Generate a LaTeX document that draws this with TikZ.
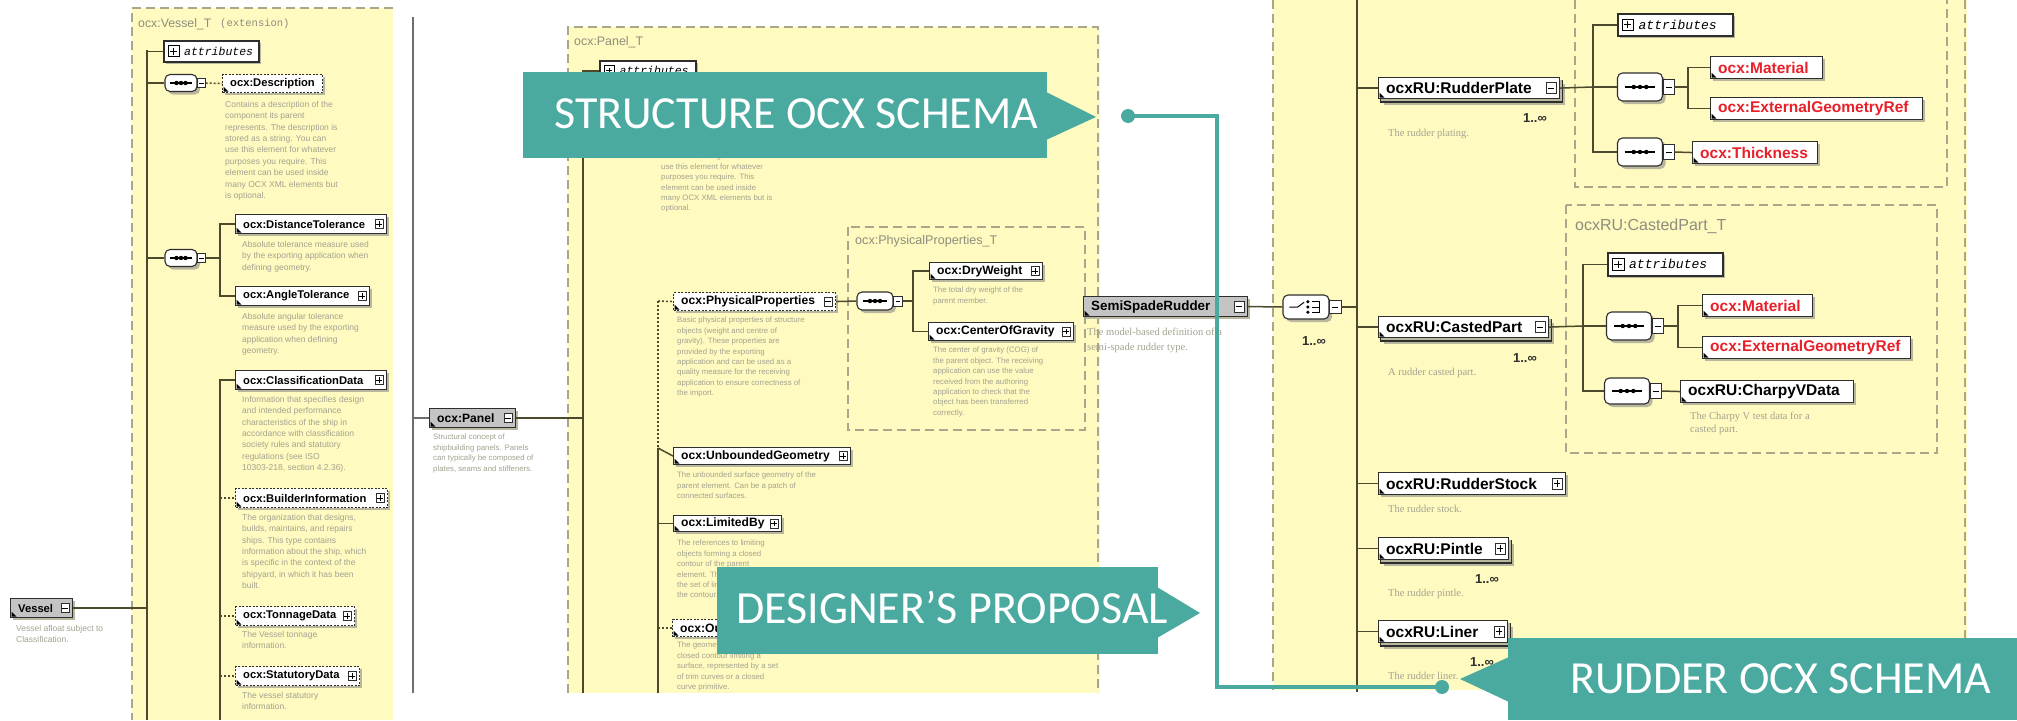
\documentclass[tikz,border=0pt]{standalone}
\usepackage{fontspec}
\setmainfont{Liberation Sans}
\newfontfamily\calloutfont{Carlito}
\newfontfamily\serifdesc{Liberation Serif}
\newfontfamily\attrfont{Liberation Mono}

\definecolor{calloutC}{HTML}{4BAAA0}
\definecolor{paneC}{HTML}{FEFAC0}
\definecolor{frameC}{HTML}{A9A68A}
\definecolor{lineC}{HTML}{4B4A2C}
\definecolor{boxC}{HTML}{2E2E2E}
\definecolor{shadowC}{HTML}{B9B79E}
\definecolor{globC}{HTML}{C4C4C4}
\definecolor{descC}{HTML}{A3A290}
\definecolor{titleC}{HTML}{8E8D7E}
\definecolor{refC}{HTML}{E8202A}
\definecolor{spineC}{HTML}{6E6E6E}

% half size of the +/- marker inside element boxes
\newcommand{\sgs}{4.5}

% element box: [style]{name}{x}{y}{w}{h}{label}
\newcommand{\elem}[7][ebox]{%
  \fill[shadowC] ({#3+3},{#4+3}) rectangle ++(#5,#6);
  \node[#1, minimum width=#5, minimum height=#6, anchor=north west] (#2) at (#3,#4) {};
  \node[anchor=west, inner sep=0, namefont] at ([xshift=8pt]#2.west) {#7};
  \fill[black] ([xshift=1.5pt,yshift=1.5pt]#2.south west) -- ++(5pt,0pt) -- ++(-5pt,5pt) -- cycle;
}
% element with several occurrences (stacked box behind)
\newcommand{\elemmulti}[7][ebox]{%
  \fill[shadowC] ({#3+6},{#4+7}) rectangle ++(#5,#6);
  \filldraw[fill=white, draw=boxC, line width=1.1pt] ({#3+3},{#4+4}) rectangle ++(#5,#6);
  \elem[#1]{#2}{#3}{#4}{#5}{#6}{#7}%
}
% +/- marker: {node}{1 = plus, 0 = minus}
\newcommand{\signbox}[2]{%
  \draw[line width=0.7pt, draw=boxC, fill=white] ([xshift={-4-1.8*\sgs},yshift={-\sgs}]#1.east) rectangle ([xshift=-4,yshift={\sgs}]#1.east);
  \draw[line width=0.7pt] ([xshift={-4-1.5*\sgs}]#1.east) -- ([xshift={-4-0.3*\sgs}]#1.east);
  \ifnum#2=1 \draw[line width=0.7pt] ([xshift={-4-0.9*\sgs},yshift={-0.6*\sgs}]#1.east) -- ([xshift={-4-0.9*\sgs},yshift={0.6*\sgs}]#1.east);\fi
}
% compositor frame: {name}{cx}{cy}{w}{h}
\newcommand{\compframe}[5]{%
  \fill[shadowC, rounded corners=5pt] ({#2-#4/2+3},{#3-#5/2+3}) rectangle ++(#4,#5);
  \node[draw=boxC, line width=1.1pt, fill=white, rounded corners=5pt, minimum width=#4, minimum height=#5, inner sep=0] (#1) at (#2,#3) {};
  \draw[line width=0.7pt, draw=boxC, fill=white] ([yshift={-0.28*#5}]#1.east) rectangle ([xshift={0.25*#4},yshift={0.28*#5}]#1.east);
  \draw[line width=0.6pt] ([xshift={0.06*#4}]#1.east) -- ([xshift={0.19*#4}]#1.east);
  \coordinate (#1-o) at ([xshift={0.25*#4}]#1.east);
}
% sequence compositor
\newcommand{\seqc}[5]{%
  \compframe{#1}{#2}{#3}{#4}{#5}%
  \draw[line width=1.1pt] ([xshift={-0.34*#4}]#1.center) -- ([xshift={0.34*#4}]#1.center);
  \foreach \dd in {-1,0,1} \fill ([xshift={\dd*0.14*#4}]#1.center) circle (2.2pt);
}
% choice compositor
\newcommand{\choicec}[5]{%
  \compframe{#1}{#2}{#3}{#4}{#5}%
  \draw[line width=1pt] ([xshift={-0.36*#4}]#1.center) -- ([xshift={-0.18*#4}]#1.center) -- ([xshift={-0.04*#4},yshift={0.2*#5}]#1.center);
  \foreach \dd in {-1,0,1} \fill ([xshift={0.04*#4},yshift={\dd*0.22*#5}]#1.center) circle (1.7pt);
  \draw[line width=1pt] ([xshift={0.12*#4},yshift={0.22*#5}]#1.center) -| ([xshift={0.3*#4},yshift={-0.22*#5}]#1.center) -- ([xshift={0.12*#4},yshift={-0.22*#5}]#1.center);
  \draw[line width=1pt] ([xshift={0.12*#4}]#1.center) -- ([xshift={0.3*#4}]#1.center);
}
% attributes box: {name}{x}{y}{w}{h}{font size}
\newcommand{\attrbox}[6]{%
  \fill[shadowC] ({#2+3},{#3+3}) rectangle ++(#4,#5);
  \node[draw=boxC, line width=1.5pt, fill=white, minimum width=#4, minimum height=#5, anchor=north west, inner sep=0] (#1) at (#2,#3) {};
  \draw[line width=0.8pt, fill=white] ([xshift=5pt,yshift={-0.26*#5}]#1.west) rectangle ([xshift={5+0.52*#5},yshift={0.26*#5}]#1.west);
  \draw[line width=0.8pt] ([xshift={5+0.1*#5}]#1.west) -- ([xshift={5+0.42*#5}]#1.west);
  \draw[line width=0.8pt] ([xshift={5+0.26*#5},yshift={-0.16*#5}]#1.west) -- ([xshift={5+0.26*#5},yshift={0.16*#5}]#1.west);
  \node[anchor=west, inner sep=0, font=\attrfont\itshape\fontsize{#6}{#6}\selectfont] at ([xshift={10+0.52*#5}]#1.west) {attributes};
}

\begin{document}
\begin{tikzpicture}[x=1pt,y=-1pt,
  namefont/.style={font=\bfseries\fontsize{12.5}{14}\selectfont},
  descfont/.style={font=\fontsize{8.5}{11.4}\selectfont},
  conn/.style={draw=lineC, line width=1.5pt},
  optconn/.style={draw=lineC, line width=1.5pt, dash pattern=on 2pt off 2pt},
  frame/.style={draw=frameC, line width=1.3pt, dash pattern=on 9pt off 5pt},
  ebox/.style={rectangle, draw=boxC, line width=1.1pt, fill=white, inner sep=0},
  optbox/.style={ebox, dash pattern=on 2pt off 1.5pt},
  gbox/.style={ebox, fill=globC},
  descr/.style={anchor=north west, align=left, inner sep=0, text=descC, descfont},
  titletxt/.style={anchor=west, inner sep=0, text=titleC},
  occ/.style={anchor=base east, inner sep=0, font=\bfseries\fontsize{13}{14}\selectfont, text=boxC},
  callouttext/.style={anchor=base west, inner sep=0, text=white, font=\calloutfont\fontsize{46}{50}\selectfont}
]
\useasboundingbox (0,0) rectangle (2017,720);
\fill[white] (0,0) rectangle (2017,720);

% ---------- schema panes ----------
\fill[paneC] (132,8) rectangle (393,720);
\fill[paneC] (568,27) rectangle (1100,693);
\fill[paneC] (1273,0) rectangle (1967,690);

\draw[frame] (393,8) -- (132,8) -- (132,720);
\draw[frame] (568,693) -- (568,27) -- (1098,27) -- (1098,693);
\draw[frame] (848,227) rectangle (1085,430);
\draw[frame] (1273,0) -- (1273,690);
\draw[frame] (1965,0) -- (1965,690);
\draw[frame] (1575,0) -- (1575,187) -- (1947,187) -- (1947,0);
\draw[frame] (1566,205) rectangle (1937,453);

% ---------- ocx:Vessel_T ----------
\begin{scope}[namefont/.style={font=\bfseries\fontsize{11.2}{13}\selectfont}]
\node[titletxt, font=\fontsize{12.3}{14}\selectfont] (vtitle) at (138,24) {ocx:Vessel\_T};
\node[titletxt, font=\attrfont\fontsize{10.5}{12}\selectfont] (vext) at (220,24) {(extension)};

\coordinate (vtop) at (147,50);
\coordinate (vbot) at (147,720);
\draw[conn] (vtop) -- (vbot);

\attrbox{vattr}{163}{40}{95}{21}{11.5}
\draw[conn] (vattr.west -| vtop) -- (vattr.west);

\seqc{vseq1}{181}{83}{32}{17}
\draw[conn] (vseq1.west -| vtop) -- (vseq1.west);
\elem[optbox]{vdesc}{222}{74}{100}{18}{ocx:Description}
\draw[optconn] (vseq1-o) -- (vdesc.west);
\node[descr] (vdesct) at (225,101) {Contains a description of the\\component its parent\\represents. The description is\\stored as a string. You can\\use this element for whatever\\purposes you require. This\\element can be used inside\\many OCX XML elements but\\is optional.};

\seqc{vseq2}{181}{258}{32}{17}
\draw[conn] (vseq2.west -| vtop) -- (vseq2.west);
\coordinate (vb2) at (220,258);
\draw[conn] (vseq2-o) -- (vb2);
\elem{vdist}{235}{214}{151}{19}{ocx:DistanceTolerance}\signbox{vdist}{1}
\elem{vang}{235}{286}{134}{19}{ocx:AngleTolerance}\signbox{vang}{1}
\draw[conn] (vdist.west) -| (vb2);
\draw[conn] (vang.west) -| (vb2);
\node[descr] (vdistt) at (242,241) {Absolute tolerance measure used\\by the exporting application when\\defining geometry.};
\node[descr] (vangt) at (242,313) {Absolute angular tolerance\\measure used by the exporting\\application when defining\\geometry.};

\coordinate (vb3) at (220,720);
\elem{vclass}{235}{370}{151}{19}{ocx:ClassificationData}\signbox{vclass}{1}
\draw[conn] (vclass.west) -| (vb3);
\node[descr] (vclasst) at (242,396) {Information that specifies design\\and intended performance\\characteristics of the ship in\\accordance with classification\\society rules and statutory\\regulations (see ISO\\10303-218, section 4.2.36).};
\elem[optbox]{vbuild}{235}{488}{152}{19}{ocx:BuilderInformation}\signbox{vbuild}{1}
\draw[optconn] (vbuild.west -| vb3) -- (vbuild.west);
\node[descr] (vbuildt) at (242,514) {The organization that designs,\\builds, maintains, and repairs\\ships. This type contains\\information about the ship, which\\is specific in the context of the\\shipyard, in which it has been\\built.};
\elem[optbox]{vton}{235}{606}{119}{19}{ocx:TonnageData}\signbox{vton}{1}
\draw[optconn] (vton.west -| vb3) -- (vton.west);
\node[descr] (vtont) at (242,631) {The Vessel tonnage\\information.};
\elem[optbox]{vstat}{235}{666}{124}{19}{ocx:StatutoryData}\signbox{vstat}{1}
\draw[optconn] (vstat.west -| vb3) -- (vstat.west);
\node[descr] (vstatt) at (242,692) {The vessel statutory\\information.};

\elem[gbox]{vessel}{10}{598}{62}{19}{Vessel}\signbox{vessel}{0}
\draw[conn] (vessel.east) -- (vessel.east -| vtop);
\node[descr] (vesselt) at (16,625) {Vessel afloat subject to\\Classification.};
\end{scope}

% ---------- ocx:Panel / ocx:Panel_T ----------
\begin{scope}[namefont/.style={font=\bfseries\fontsize{12.1}{14}\selectfont},
  descfont/.style={font=\fontsize{7.8}{10.4}\selectfont}]
\coordinate (gtop) at (413,17);
\coordinate (gbot) at (413,693);
\draw[draw=spineC, line width=1.4pt] (gtop) -- (gbot);

\coordinate (ptop) at (583,70);
\coordinate (pbot) at (583,693);
\draw[conn] (ptop) -- (pbot);

\elem[gbox]{panel}{429}{408}{86}{19}{ocx:Panel}\signbox{panel}{0}
\draw[draw=spineC, line width=1.4pt] (panel.west -| gtop) -- (panel.west);
\draw[conn] (panel.east) -- (panel.east -| ptop);
\node[descr] (panelt) at (433,434) {Structural concept of\\shipbuilding panels. Panels\\can typically be composed of\\plates, seams and stiffeners.};

\node[titletxt, font=\fontsize{12.4}{14}\selectfont] (ptitle) at (574,42) {ocx:Panel\_T};
\attrbox{pattr}{599}{60}{96}{20}{11.5}
\draw[conn] (pattr.west -| ptop) -- (pattr.west);
\node[descr] (pdesct) at (661,153) {stored as a string. You can\\use this element for whatever\\purposes you require. This\\element can be used inside\\many OCX XML elements but is\\optional.};

\coordinate (pb1) at (658,301);
\coordinate (pb2) at (658,448);
\coordinate (pb3) at (658,693);
\draw[optconn] (pb1) -- (pb2);
\draw[conn] (pb2) -- (pb3);

\elem[optbox]{phys}{673}{292}{162}{18}{ocx:PhysicalProperties}\signbox{phys}{0}
\draw[optconn] (pb1) -- (phys.west);
\node[descr] (physt) at (677,317) {Basic physical properties of structure\\objects (weight and centre of\\gravity). These properties are\\provided by the exporting\\application and can be used as a\\quality measure for the receiving\\application to ensure correctness of\\the import.};

\node[titletxt, font=\fontsize{12.6}{14}\selectfont] (pptitle) at (855,241) {ocx:PhysicalProperties\_T};
\seqc{pseq}{875}{301}{36}{18}
\draw[conn] (phys.east) -- (pseq.west);
\coordinate (pb4) at (913,301);
\draw[conn] (pseq-o) -- (pb4);
\elem{pdry}{929}{262}{113}{17}{ocx:DryWeight}\signbox{pdry}{1}
\elem{pcog}{928}{322}{145}{18}{ocx:CenterOfGravity}\signbox{pcog}{1}
\draw[conn] (pdry.west) -| (pb4);
\draw[conn] (pcog.west) -| (pb4);
\node[descr] (pdryt) at (933,287) {The total dry weight of the\\parent member.};
\node[descr] (pcogt) at (933,347) {The center of gravity (COG) of\\the parent object. The receiving\\application can use the value\\received from the authoring\\application to check that the\\object has been transferred\\correctly.};

\elem{punb}{673}{447}{177}{17}{ocx:UnboundedGeometry}\signbox{punb}{1}
\draw[conn] (pb2) -- (punb.west);
\node[descr] (punbt) at (677,472) {The unbounded surface geometry of the\\parent element. Can be a patch of\\connected surfaces.};
\elem{plim}{673}{515}{108}{16}{ocx:LimitedBy}\signbox{plim}{1}
\draw[conn] (plim.west -| pb2) -- (plim.west);
\node[descr] (plimt) at (677,540) {The references to limiting\\objects forming a closed\\contour of the parent\\element. The order of\\the set of limits defines\\the contour.};
\elem[optbox]{pout}{672}{619}{150}{17}{ocx:OuterContour}\signbox{pout}{1}
\draw[optconn] (pout.west -| pb2) -- (pout.west);
\node[descr] (poutt) at (677,642) {The geometry of the outer\\closed contour limiting a\\surface, represented by a set\\of trim curves or a closed\\curve primitive.};
\end{scope}

% ---------- SemiSpadeRudder ----------
\begin{scope}[namefont/.style={font=\bfseries\fontsize{15.5}{18}\selectfont},
  descfont/.style={font=\serifdesc\fontsize{10.5}{13}\selectfont}]
\renewcommand{\sgs}{5.5}
\elem[gbox]{ssr}{1083}{296}{164}{20}{\fontsize{13.4}{15}\selectfont SemiSpadeRudder}\signbox{ssr}{0}
\node[descr, font=\serifdesc\fontsize{10.5}{15}\selectfont] (ssrt) at (1087,328) {The model-based definition of a\\semi-spade rudder type.};
\choicec{rch}{1306}{307}{46}{24}
\draw[conn] (ssr.east) -- (rch.west);
\node[occ] (rchocc) at (1326,345) {1..∞};

\coordinate (rtop) at (1357,0);
\coordinate (rbot) at (1357,692);
\draw[conn] (rtop) -- (rbot);
\draw[conn] (rch-o) -- (rch-o -| rtop);

% rudder plate
\elemmulti{rplate}{1378}{77}{181}{21}{ocxRU:RudderPlate}\signbox{rplate}{0}
\draw[conn] (rplate.west -| rtop) -- (rplate.west);
\node[occ] (rplateocc) at (1547,122) {1..∞};
\node[descr] (rplatet) at (1388,129) {The rudder plating.};
\coordinate (rb1) at (1593,87);
\draw[conn] (rplate.east) -- (rb1);
\attrbox{rattr1}{1617}{13}{115}{22}{13}
\seqc{rseq1}{1640}{87}{45}{28}
\seqc{rseq2}{1640}{152}{45}{28}
\draw[conn] (rattr1.west) -| (rb1);
\draw[conn] (rseq2.west) -| (rb1);
\draw[conn] (rb1) -- (rseq1.west);
\coordinate (rb2) at (1688,87);
\draw[conn] (rseq1-o) -- (rb2);
\elem{rmat1}{1710}{56}{112}{22}{\color{refC}ocx:Material}
\elem{rext1}{1710}{97}{212}{22}{\color{refC}ocx:ExternalGeometryRef}
\draw[conn] (rmat1.west) -| (rb2);
\draw[conn] (rext1.west) -| (rb2);
\elem{rthk}{1692}{141}{125}{22}{\color{refC}ocx:Thickness}
\draw[conn] (rseq2-o) -- (rthk.west);

% casted part
\node[titletxt, font=\fontsize{16}{18}\selectfont] (cptitle) at (1575,226) {ocxRU:CastedPart\_T};
\elemmulti{rcast}{1378}{316}{170}{21}{ocxRU:CastedPart}\signbox{rcast}{0}
\draw[conn] (rcast.west -| rtop) -- (rcast.west);
\node[occ] (rcastocc) at (1537,362) {1..∞};
\node[descr] (rcastt) at (1388,368) {A rudder casted part.};
\coordinate (rb3) at (1583,326);
\draw[conn] (rcast.east) -- (rb3);
\attrbox{rattr2}{1607}{252}{115}{23}{13}
\seqc{rseq3}{1629}{326}{45}{28}
\seqc{rseq4}{1627}{391}{45}{26}
\draw[conn] (rattr2.west) -| (rb3);
\draw[conn] (rseq4.west) -| (rb3);
\draw[conn] (rb3) -- (rseq3.west);
\coordinate (rb4) at (1678,326);
\draw[conn] (rseq3-o) -- (rb4);
\elem{rmat2}{1702}{294}{110}{22}{\color{refC}ocx:Material}
\elem{rext2}{1702}{336}{208}{22}{\color{refC}ocx:ExternalGeometryRef}
\draw[conn] (rmat2.west) -| (rb4);
\draw[conn] (rext2.west) -| (rb4);
\elem{rchar}{1680}{380}{173}{22}{ocxRU:CharpyVData}
\draw[conn] (rseq4-o) -- (rchar.west);
\node[descr] (rchart) at (1690,412) {The Charpy V test data for a\\casted part.};

% stock, pintle, liner
\elem{rstock}{1378}{472}{187}{22}{ocxRU:RudderStock}\signbox{rstock}{1}
\draw[conn] (rstock.west -| rtop) -- (rstock.west);
\node[descr] (rstockt) at (1388,505) {The rudder stock.};
\elemmulti{rpin}{1378}{537}{130}{22}{ocxRU:Pintle}\signbox{rpin}{1}
\draw[conn] (rpin.west -| rtop) -- (rpin.west);
\node[occ] (rpinocc) at (1499,583) {1..∞};
\node[descr] (rpint) at (1388,589) {The rudder pintle.};
\elemmulti{rlin}{1378}{620}{129}{22}{ocxRU:Liner}\signbox{rlin}{1}
\draw[conn] (rlin.west -| rtop) -- (rlin.west);
\node[occ] (rlinocc) at (1494,666) {1..∞};
\node[descr] (rlint) at (1388,672) {The rudder liner.};
\end{scope}

% ---------- callouts ----------
\fill[calloutC] (523,72) rectangle (1047,158);
\fill[calloutC] (1046,92) -- (1096,117) -- (1046,140) -- cycle;
\node[callouttext] (lstruct) at (554,128) {STRUCTURE OCX SCHEMA};

\fill[calloutC] (717,567) rectangle (1158,654);
\fill[calloutC] (1157,587) -- (1200,613) -- (1157,638) -- cycle;
\node[callouttext] (ldesign) at (736,623) {DESIGNER’S PROPOSAL};

\fill[calloutC] (1508,638) rectangle (2017,720);
\fill[calloutC] (1509,657) -- (1460,679) -- (1509,702) -- cycle;
\node[callouttext] (lrudder) at (1570,693) {RUDDER OCX SCHEMA};

% link between the two schemas
\coordinate (dotA) at (1128,116);
\coordinate (turn) at (1217,687);
\coordinate (dotB) at (1442,687);
\draw[calloutC, line width=4.5pt] (dotA) -| (turn) -- (dotB);
\fill[calloutC] (dotA) circle (7pt);
\fill[calloutC] (dotB) circle (7pt);
\end{tikzpicture}
\end{document}
